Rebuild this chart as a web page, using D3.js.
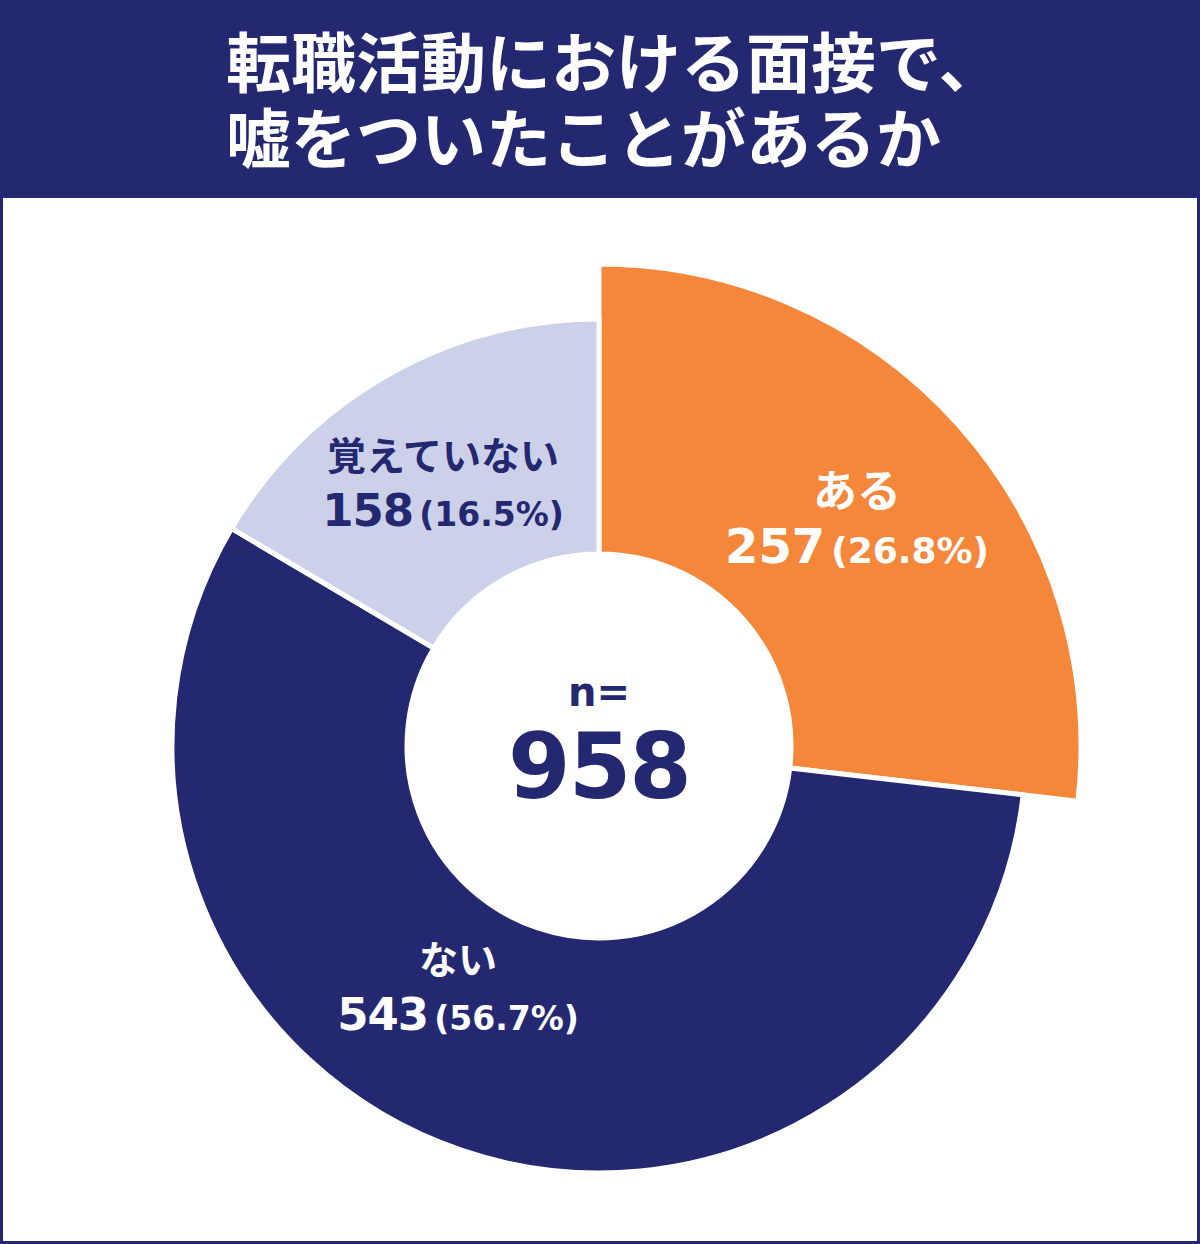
<!DOCTYPE html>
<html>
<head>
<meta charset="utf-8">
<script src="https://cdn.jsdelivr.net/npm/d3@7"></script>
<style>
  html, body { margin: 0; padding: 0; background: #fff; }
  svg { display: block; }
  text { font-family: "Noto Sans CJK JP", "Noto Sans", sans-serif; font-weight: 700; }
  .num { font-family: "DejaVu Sans", "Open Sans", sans-serif; font-weight: 700; }
</style>
</head>
<body>
<div id="chart"></div>
<script>
'use strict';

// data
const titleLines = ['転職活動における面接で、', '嘘をついたことがあるか'];
const categories = ['ある', 'ない', '覚えていない'];
const counts = [257, 543, 158];
const percents = ['26.8%', '56.7%', '16.5%'];
const highlight = 'ある';
const total = 958;

const width = 1200;
const height = 1244;
const navy = '#232870';

const color = d3.scaleOrdinal()
    .domain(categories)
    .range(['#F4873A', navy, '#CDD0E9']);

const labelColor = d3.scaleOrdinal()
    .domain(categories)
    .range(['#ffffff', '#ffffff', navy]);

// label block: center x, first baseline, kana size, number size, pct size
const labelPos = {
    'ある': [857, 507, 44, 48, 36],
    'ない': [458, 974, 39, 45, 33],
    '覚えていない': [443, 470, 39, 45, 33]
};

const svg = d3.select('#chart').append('svg')
    .attr('width', width)
    .attr('height', height);

svg.append('rect')
    .attr('x', 1.5).attr('y', 1.5)
    .attr('width', width - 3).attr('height', height - 3)
    .attr('fill', '#fff')
    .attr('stroke', navy)
    .attr('stroke-width', 3);

svg.append('rect')
    .attr('x', 0).attr('y', 0)
    .attr('width', width).attr('height', 198)
    .attr('fill', navy);

svg.selectAll('.title')
    .data(titleLines)
    .enter().append('text')
        .attr('class', 'title')
        .attr('x', 226)
        .attr('y', function(d, i) { return 87 + i * 76; })
        .attr('fill', '#fff')
        .style('font-size', '65px')
        .text(function(d) { return d; });

const cx = 599, cy = 746;
const g = svg.append('g')
    .attr('transform', 'translate(' + cx + ',' + cy + ')');

const rows = categories.map(function(c, i) {
    return { key: c, value: counts[i], pct: percents[i] };
});

const pie = d3.pie()
    .sort(null)
    .value(function(d) { return d.value; });

const arc = d3.arc()
    .innerRadius(192)
    .outerRadius(function(d) { return d.data.key === highlight ? 482 : 427; });

g.selectAll('.slice')
    .data(pie(rows))
    .enter().append('path')
        .attr('class', 'slice')
        .attr('d', arc)
        .attr('fill', function(d) { return color(d.data.key); })
        .attr('stroke', '#fff')
        .attr('stroke-width', 5)
        .attr('stroke-linejoin', 'miter');

// labels
rows.forEach(function(d) {
    const p = labelPos[d.key];
    const fill = labelColor(d.key);
    svg.append('text')
        .attr('x', p[0])
        .attr('y', p[1])
        .attr('text-anchor', 'middle')
        .attr('fill', fill)
        .style('font-size', p[2] + 'px')
        .text(d.key);

    const t = svg.append('text')
        .attr('class', 'num')
        .attr('x', p[0])
        .attr('y', p[1] + 56)
        .attr('text-anchor', 'middle')
        .attr('fill', fill);
    t.append('tspan')
        .style('font-size', p[3] + 'px')
        .style('letter-spacing', d.key === highlight ? '0px' : '-1px')
        .text(d.value);
    t.append('tspan')
        .attr('dx', 6)
        .style('font-size', p[4] + 'px')
        .text('(' + d.pct + ')');
});

svg.append('text')
    .attr('class', 'num')
    .attr('x', cx)
    .attr('y', 706)
    .attr('text-anchor', 'middle')
    .attr('fill', navy)
    .style('font-size', '40px')
    .text('n=');

svg.append('text')
    .attr('class', 'num')
    .attr('x', cx)
    .attr('y', 798)
    .attr('text-anchor', 'middle')
    .attr('fill', navy)
    .style('font-size', '90px')
    .style('letter-spacing', '-2px')
    .text(total);
</script>
</body>
</html>
